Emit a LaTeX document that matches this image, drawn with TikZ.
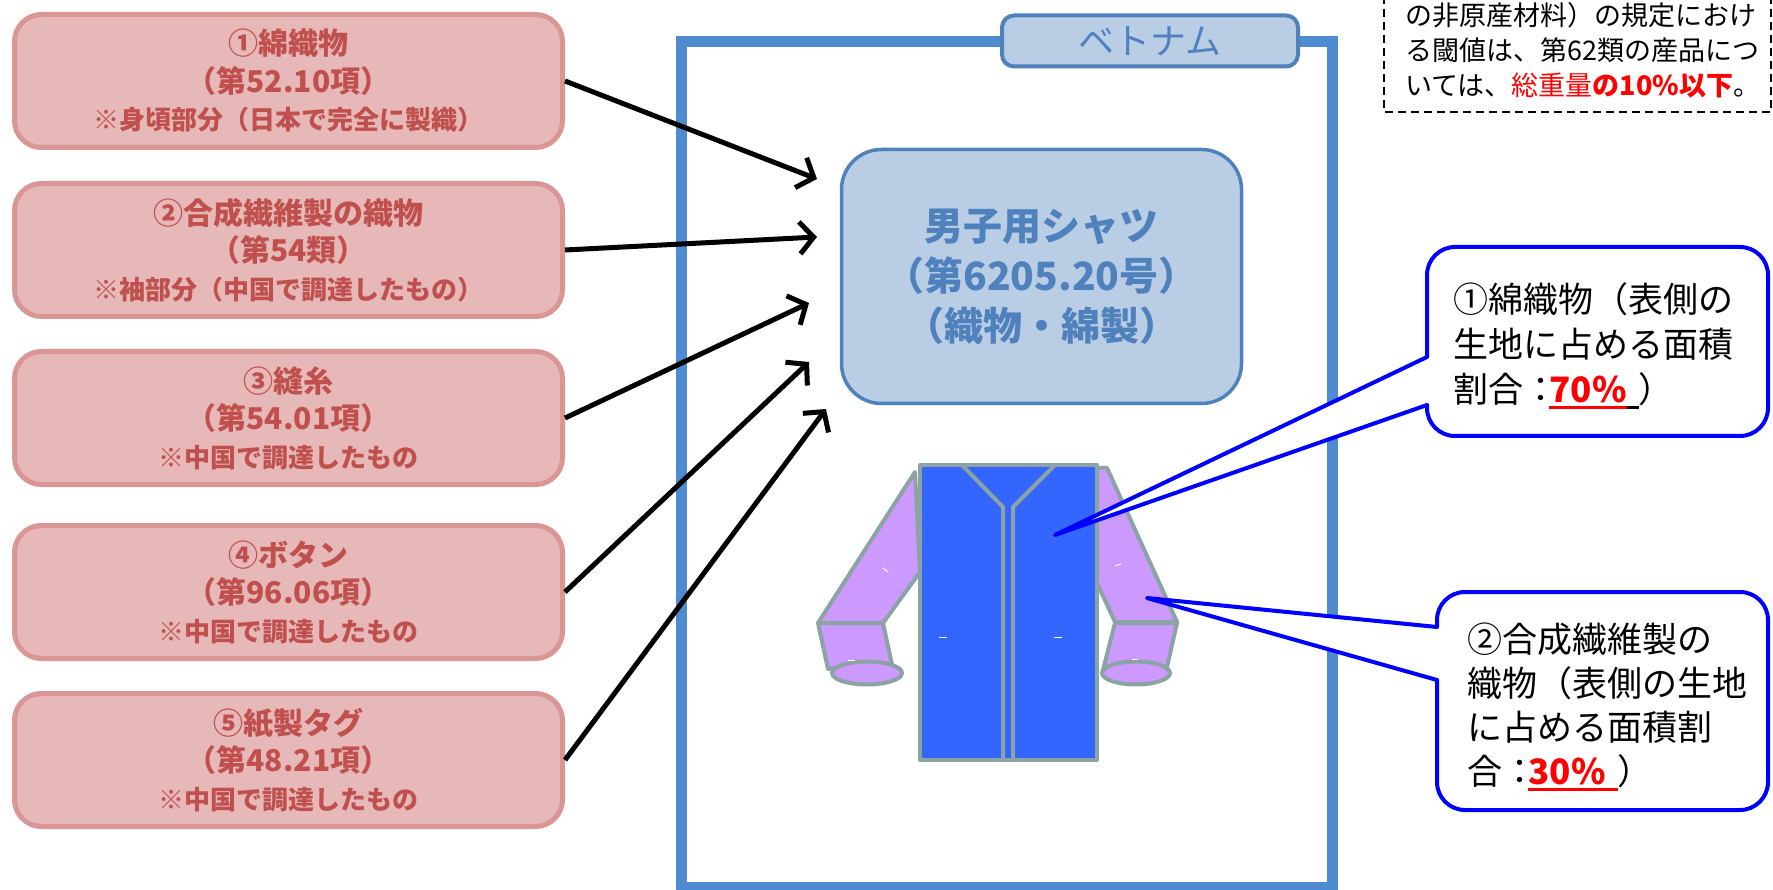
\documentclass[tikz,border=0pt]{standalone}
\usepackage{fontspec}
\setmainfont{Noto Sans CJK JP}
\usetikzlibrary{arrows.meta}

\definecolor{pinkfill}{RGB}{230,185,184}
\definecolor{pinkline}{RGB}{217,150,148}
\definecolor{pinktext}{RGB}{192,80,77}
\definecolor{paleblue}{RGB}{185,205,229}
\definecolor{steelblue}{RGB}{79,129,189}
\definecolor{frameblue}{RGB}{78,139,208}
\definecolor{shirtline}{RGB}{140,163,163}
\definecolor{bodyblue}{RGB}{51,102,255}
\definecolor{sleevelilac}{RGB}{204,153,255}

% underline drawn as a rule of a given colour under the text
\newcommand\mkul[2]{\setbox0\hbox{#2}\rlap{\color{#1}\rule[-6pt]{\wd0}{2.5pt}}\box0}

\begin{document}
\begin{tikzpicture}[x=1pt,y=-1pt,
  partbox/.style={draw=pinkline, fill=pinkfill, line width=5pt, rounded corners=27pt,
    minimum width=548pt, minimum height=133pt, inner sep=0pt, align=center,
    text=pinktext, font=\fontsize{30}{37.5}\selectfont\bfseries},
  arr/.style={line width=5pt, -{Straight Barb[length=14pt,width=32pt]}},
  shirt/.style={draw=shirtline, line width=4pt, line join=round},
  bubble/.style={draw=blue, fill=white, line width=4pt, rounded corners=28pt},
  bubbleline/.style={draw=blue, line width=4pt, line join=round, line cap=round},
  bubbletext/.style={inner sep=0pt, align=left, anchor=west}
]
\useasboundingbox (0,0) rectangle (1773,890);

% Vietnam frame and its tab
\node[draw=frameblue, line width=11pt, minimum width=650.5pt, minimum height=845.5pt,
      inner sep=0pt] (frame) at (1006.75,464.25) {};
\node[draw=steelblue, fill=paleblue, line width=4pt, rounded corners=12pt,
      minimum width=296pt, minimum height=51pt, inner sep=0pt, text=steelblue,
      font=\fontsize{36}{40}\selectfont] (tab) at (1150,41) {ベトナム};

% product
\node[draw=steelblue, fill=paleblue, line width=3.5pt, rounded corners=40pt,
      minimum width=400pt, minimum height=254pt, inner sep=0pt, align=center,
      text=steelblue, font=\fontsize{39}{50}\selectfont\bfseries] (prod) at (1041.5,276.5)
      {男子用シャツ\\（第6205.20号）\\（織物・綿製）};

% materials
\node[partbox] (m1) at (288.5,81) {①綿織物\\（第52.10項）\\{\fontsize{26}{37.5}\selectfont ※身頃部分（日本で完全に製織）}};
\node[partbox] (m2) at (288.5,250) {②合成繊維製の織物\\（第54類）\\{\fontsize{26}{37.5}\selectfont ※袖部分（中国で調達したもの）}};
\node[partbox] (m3) at (288.5,418) {③縫糸\\（第54.01項）\\{\fontsize{26}{37.5}\selectfont ※中国で調達したもの}};
\node[partbox] (m4) at (288.5,592) {④ボタン\\（第96.06項）\\{\fontsize{26}{37.5}\selectfont ※中国で調達したもの}};
\node[partbox] (m5) at (288.5,760) {⑤紙製タグ\\（第48.21項）\\{\fontsize{26}{37.5}\selectfont ※中国で調達したもの}};

\coordinate (t1) at (817,179);
\coordinate (t2) at (817,237);
\coordinate (t3) at (809,303);
\coordinate (t4) at (809,362);
\coordinate (t5) at (826,409);
\draw[arr] (m1.east) -- (t1);
\draw[arr] (m2.east) -- (t2);
\draw[arr] (m3.east) -- (t3);
\draw[arr] (m4.east) -- (t4);
\draw[arr] (m5.east) -- (t5);

% shirt: sleeves and cuffs
\filldraw[shirt, fill=sleevelilac] (915,472) -- (818,623) -- (883,623) -- (920,572) -- cycle;
\filldraw[shirt, fill=sleevelilac] (818,623) -- (883,623) -- (892,665) -- (828,669) -- cycle;
\filldraw[shirt, fill=sleevelilac] (867,673) ellipse [x radius=35pt, y radius=11.5pt];
\filldraw[shirt, fill=sleevelilac] (1097,468) -- (1107,468) -- (1177,622) -- (1115,622) -- (1097,583) -- cycle;
\filldraw[shirt, fill=sleevelilac] (1115,623) -- (1177,623) -- (1167,667) -- (1103,670) -- cycle;
\filldraw[shirt, fill=sleevelilac] (1136,673) ellipse [x radius=34pt, y radius=11.5pt];
% shirt: body, collar and placket
\filldraw[shirt, fill=bodyblue] (920,465) rectangle (1097,760);
\draw[shirt] (962,465) -- (1003,507) -- (1003,760);
\draw[shirt] (1055,465) -- (1013,507) -- (1013,760);
% small stitch marks
\draw[white, line width=1pt] (883,568) -- (888,572);
\draw[white, line width=1pt] (1115,566) -- (1121,564);
\draw[white, line width=1pt] (939,637) -- (947,637);
\draw[white, line width=1pt] (1054,637) -- (1062,637);
\draw[white, line width=1pt] (848,660) -- (855,660);
\draw[white, line width=1pt] (1132,659) -- (1138,659);

% callout for the cotton fabric
\coordinate (c1a) at (1427,357);
\coordinate (c1b) at (1427,405);
\coordinate (c1tip) at (1055,535);
\draw[bubble] (1427,247) rectangle (1768,436);
\fill[white] (c1tip) -- (c1a) -- ([xshift=4pt]c1a) -- ([xshift=4pt]c1b) -- (c1b) -- cycle;
\draw[bubbleline] (c1a) -- (c1tip) -- (c1b);
\node[bubbletext, font=\fontsize{35}{45}\selectfont] (c1text) at (1453,346)
  {①綿織物（表側の\\生地に占める面積\\割合：\hspace{-0.25em}\mkul{red}{\textcolor{red}{\bfseries 70\%}}\mkul{black}{\hspace{0.35em}}）};

% callout for the synthetic fabric
\coordinate (c2a) at (1437,627);
\coordinate (c2b) at (1437,680);
\coordinate (c2tip) at (1147,598);
\draw[bubble] (1437,592) rectangle (1768,810);
\fill[white] (c2tip) -- (c2a) -- ([xshift=4pt]c2a) -- ([xshift=4pt]c2b) -- (c2b) -- cycle;
\draw[bubbleline] (c2a) -- (c2tip) -- (c2b);
\node[bubbletext, font=\fontsize{35}{44}\selectfont] (c2text) at (1467,707)
  {②合成繊維製の\\織物（表側の生地\\に占める面積割\\合：\hspace{-0.25em}\mkul{red}{\textcolor{red}{\bfseries 30\%}\hspace{0.35em}}）};

% note on the threshold
\draw[line width=2pt, dash pattern=on 8pt off 5pt] (1384,-30) rectangle (1771,112);
\node[bubbletext, font=\fontsize{27}{35}\selectfont] (note) at (1405,50)
  {の非原産材料）の規定におけ\\る閾値は、第62類の産品につ\\いては、\textcolor{red}{総重量{\bfseries の10\%以下}}。};
\end{tikzpicture}
\end{document}
